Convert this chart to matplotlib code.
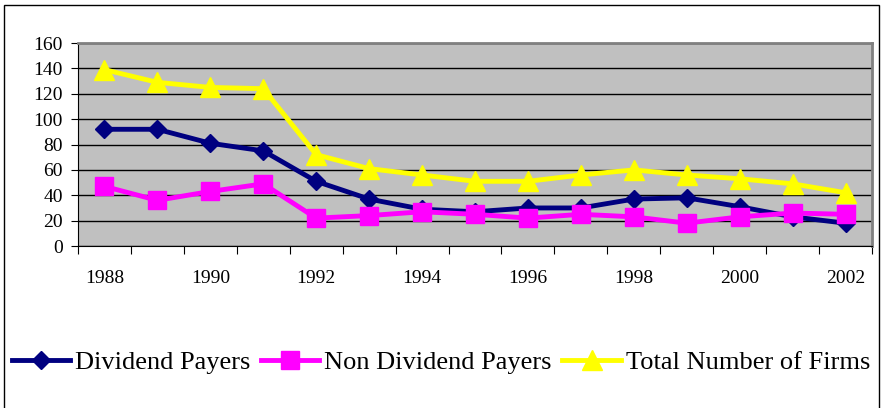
import matplotlib.pyplot as plt
from matplotlib.patches import Rectangle

years = list(range(1988, 2003))
dividend_payers = [92, 92, 81, 75, 51, 37, 29, 27, 30, 30, 37, 38, 31, 23, 18]
non_dividend_payers = [47, 36, 43, 49, 22, 24, 27, 25, 22, 25, 23, 18, 23, 26, 25]
total_firms = [139, 129, 125, 124, 72, 61, 56, 51, 51, 56, 60, 56, 53, 49, 42]

plt.rcParams['font.family'] = ['Liberation Serif', 'DejaVu Serif']

fig = plt.figure(figsize=(8.82, 4.08), dpi=100)
ax = fig.add_axes([0.0884, 0.397, 0.9003, 0.4976])
ax.set_facecolor('#C0C0C0')

x = list(range(len(years)))
ax.plot(x, dividend_payers, color='#000080', lw=3.5, marker='D', ms=9,
        label='Dividend Payers', zorder=3)
ax.plot(x, non_dividend_payers, color='#FF00FF', lw=3.5, marker='s', ms=13,
        label='Non Dividend Payers', zorder=4)
ax.plot(x, total_firms, color='#FFFF00', lw=3.5, marker='^', ms=14,
        label='Total Number of Firms', zorder=5)

ax.set_xlim(-0.5, len(years) - 0.5)
ax.set_ylim(0, 160)
ax.set_yticks(range(0, 161, 20))
ax.yaxis.grid(True, color='black', lw=1)
ax.set_axisbelow(True)

# ticks at category boundaries, labels every other year
ax.set_xticks([i - 0.5 for i in range(len(years) + 1)])
ax.set_xticklabels([])
ax.set_xticks(x[::2], minor=True)
ax.set_xticklabels([str(y) for y in years[::2]], minor=True)
ax.tick_params(axis='x', which='major', length=6, direction='out', color='black')
ax.tick_params(axis='x', which='minor', length=0, pad=17, labelsize=14)
ax.tick_params(axis='y', length=5, labelsize=14, pad=6)

for side in ['top', 'right']:
    ax.spines[side].set_color('#808080')
    ax.spines[side].set_linewidth(2)

fig.legend(loc='center', bbox_to_anchor=(0.5, 0.112), ncol=3, frameon=False,
           fontsize=19, handlelength=2.2, handletextpad=0.2, columnspacing=0.4,
           borderaxespad=0)

fig.patches.append(Rectangle((0.004, -0.1), 0.993, 1.087, transform=fig.transFigure,
                             fill=False, edgecolor='black', lw=1))

fig.savefig('out.png', dpi=100)
